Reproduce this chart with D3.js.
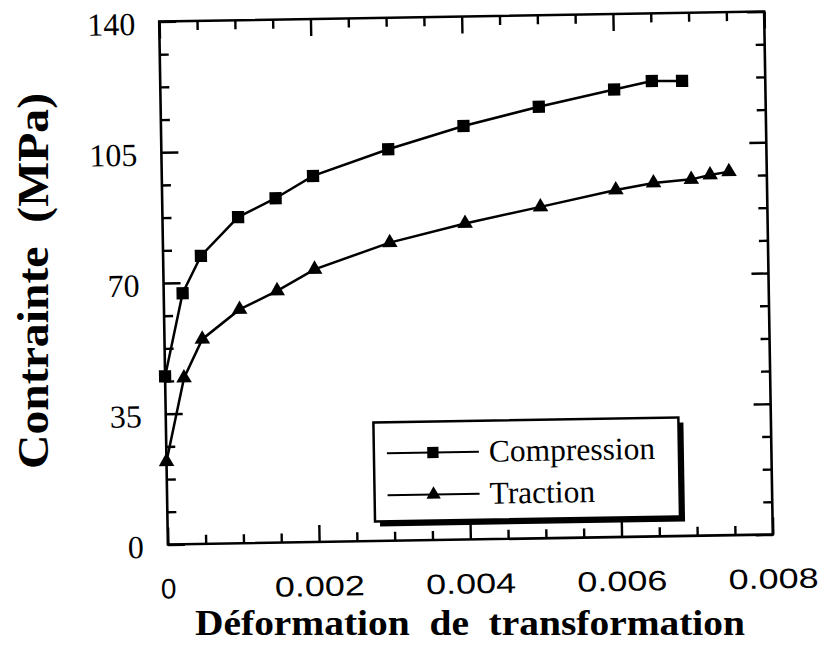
<!DOCTYPE html>
<html>
<head>
<meta charset="utf-8">
<script src="https://cdn.jsdelivr.net/npm/d3@7"></script>
<style>
  html, body { margin: 0; padding: 0; background: #fff; }
  svg { display: block; }
</style>
</head>
<body>
<svg id="chart" width="825" height="647"></svg>
<script>
// ---------- data ----------
const strainCompression = [0, 0.00025, 0.0005, 0.001, 0.0015, 0.002, 0.003, 0.004, 0.005, 0.006, 0.0065, 0.0069];
const stressCompression = [45.0, 67.2, 77.1, 87.3, 92.2, 98.0, 104.8, 110.7, 115.5, 119.8, 121.9, 121.8];

const strainTraction = [0, 0.00025, 0.0005, 0.001, 0.0015, 0.002, 0.003, 0.004, 0.005, 0.006, 0.0065, 0.007, 0.00725, 0.0075];
const stressTraction = [22.2, 44.5, 54.8, 62.6, 67.4, 73.0, 79.8, 84.6, 88.7, 92.9, 94.6, 95.4, 96.5, 97.3];

const seriesNames = ["Compression", "Traction"];
const xTickValues = [0, 0.002, 0.004, 0.006, 0.008];
const yTickValues = [0, 35, 70, 105, 140];
const xLabel = "Déformation  de  transformation";
const yLabel = "Contrainte  (MPa)";

// ---------- layout ----------
const svg = d3.select("#chart");
const L = 163.5, R = 768.5, T = 16.5, B = 539.5;
const cx = 466, cy = 278;

const x = d3.scaleLinear().domain([0, 0.008]).range([L, R]);
const y = d3.scaleLinear().domain([0, 140]).range([B, T]);

const g = svg.append("g").attr("transform", `rotate(-0.95 ${cx} ${cy})`);

const xMinor = d3.range(xTickValues[0], xTickValues[xTickValues.length - 1] + 1e-9, (xTickValues[1] - xTickValues[0]) / 4);
const yMinor = d3.range(yTickValues[0], yTickValues[yTickValues.length - 1] + 1e-9, (yTickValues[1] - yTickValues[0]) / 4);
const isMajor = (v, arr) => arr.some(a => Math.abs(a - v) < 1e-9);

const minorLen = 9, majorLen = 17;

// ticks via d3 axes, drawn inward on all four sides
const sides = [
  { axis: d3.axisBottom(x), tr: `translate(0,${B})`, minor: xMinor, major: xTickValues, attr: "y2", sign: -1 },
  { axis: d3.axisTop(x),    tr: `translate(0,${T})`, minor: xMinor, major: xTickValues, attr: "y2", sign: 1 },
  { axis: d3.axisLeft(y),   tr: `translate(${L},0)`, minor: yMinor, major: yTickValues, attr: "x2", sign: 1 },
  { axis: d3.axisRight(y),  tr: `translate(${R},0)`, minor: yMinor, major: yTickValues, attr: "x2", sign: -1 }
];
sides.forEach(s => {
  const a = g.append("g").attr("transform", s.tr)
    .call(s.axis.tickValues(s.minor).tickSize(0).tickFormat(""));
  a.select(".domain").remove();
  a.selectAll(".tick text").remove();
  a.selectAll(".tick line")
    .attr("stroke", "#000").attr("stroke-width", 2.4)
    .attr("x2", 0).attr("y2", 0)
    .attr(s.attr, d => s.sign * (isMajor(d, s.major) ? majorLen : minorLen));
});

// frame
g.append("rect").attr("x", L).attr("y", T).attr("width", R - L).attr("height", B - T)
  .attr("fill", "none").attr("stroke", "#000").attr("stroke-width", 2.6);

// tick labels
g.append("g").selectAll("text").data(xTickValues).join("text")
  .attr("x", d => x(d)).attr("y", B + 54)
  .attr("text-anchor", "middle")
  .attr("font-family", "Liberation Sans, Arial, sans-serif")
  .attr("font-size", 28)
  .attr("textLength", d => d === 0 ? null : 90)
  .attr("lengthAdjust", "spacingAndGlyphs")
  .text(d => d === 0 ? "0" : d3.format(".3f")(d));

g.append("g").selectAll("text").data(yTickValues).join("text")
  .attr("x", L - 24).attr("y", d => y(d) + 13)
  .attr("text-anchor", "end")
  .attr("font-family", "Liberation Serif, Times New Roman, serif")
  .attr("font-size", 32)
  .text(d => d);

// axis titles (outside the slightly tilted group)
svg.append("text")
  .attr("x", 470).attr("y", 635)
  .attr("text-anchor", "middle")
  .attr("font-family", "Liberation Serif, Times New Roman, serif")
  .attr("font-weight", "bold")
  .attr("font-size", 36)
  .attr("textLength", 550).attr("lengthAdjust", "spacingAndGlyphs")
  .style("white-space", "pre")
  .text(xLabel);

svg.append("text")
  .attr("transform", `translate(48,${281}) rotate(-90)`)
  .attr("text-anchor", "middle")
  .attr("font-family", "Liberation Serif, Times New Roman, serif")
  .attr("font-weight", "bold")
  .attr("font-size", 45)
  .attr("textLength", 376).attr("lengthAdjust", "spacingAndGlyphs")
  .style("white-space", "pre")
  .text(yLabel);

// series
const comp = strainCompression.map((s, i) => [s, stressCompression[i]]);
const trac = strainTraction.map((s, i) => [s, stressTraction[i]]);
const line = d3.line().x(d => x(d[0])).y(d => y(d[1]));

const series = [
  { name: seriesNames[0], data: comp, symbol: d3.symbolSquare, size: 150 },
  { name: seriesNames[1], data: trac, symbol: d3.symbolTriangle, size: 105 }
];

series.forEach(s => {
  g.append("path").datum(s.data).attr("d", line)
    .attr("fill", "none").attr("stroke", "#000").attr("stroke-width", 2.5);
  g.append("g").selectAll("path").data(s.data).join("path")
    .attr("transform", d => `translate(${x(d[0])},${y(d[1])})`)
    .attr("d", d3.symbol().type(s.symbol).size(s.size))
    .attr("fill", "#000");
});

// legend
const lg = g.append("g");
const bx = 371, by = 421, bw = 305, bh = 99;
lg.append("rect").attr("x", bx + 5).attr("y", by + 5).attr("width", bw).attr("height", bh).attr("fill", "#000");
lg.append("rect").attr("x", bx).attr("y", by).attr("width", bw).attr("height", bh)
  .attr("fill", "#fff").attr("stroke", "#000").attr("stroke-width", 2.5);
series.forEach((s, i) => {
  const ly = by + 31 + i * 42;
  lg.append("line").attr("x1", bx + 13).attr("x2", bx + 105).attr("y1", ly).attr("y2", ly)
    .attr("stroke", "#000").attr("stroke-width", 2);
  lg.append("path").attr("transform", `translate(${bx + 59},${ly})`)
    .attr("d", d3.symbol().type(s.symbol).size(s.size * 0.85)).attr("fill", "#000");
  lg.append("text").attr("x", bx + 115).attr("y", ly + 10)
    .attr("font-family", "Liberation Serif, Times New Roman, serif")
    .attr("font-size", 31.5)
    .text(s.name);
});
</script>
</body>
</html>
